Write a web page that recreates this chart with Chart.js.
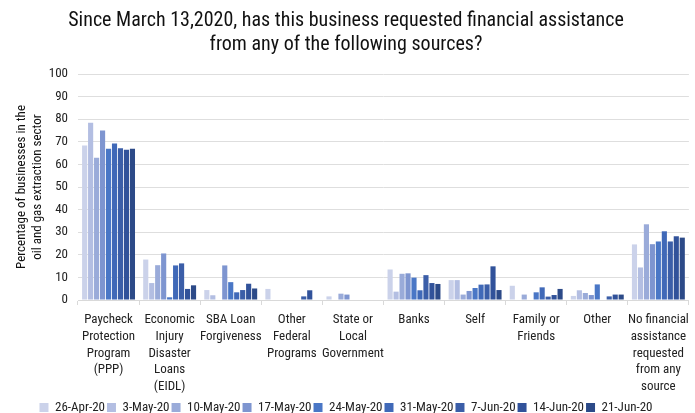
<!DOCTYPE html>
<html>
<head>
<meta charset="utf-8">
<script src="https://cdn.jsdelivr.net/npm/chart.js@4/dist/chart.umd.min.js"></script>
<style>
  html, body { margin: 0; padding: 0; background: #fff; }
  canvas { display: block; }
</style>
</head>
<body>
<canvas id="chart" width="695" height="413"></canvas>
<script>
// categories (multi-line labels)
const categories = [
  ["Paycheck", "Protection", "Program", "(PPP)"],
  ["Economic", "Injury", "Disaster", "Loans", "(EIDL)"],
  ["SBA Loan", "Forgiveness"],
  ["Other", "Federal", "Programs"],
  ["State or", "Local", "Government"],
  ["Banks"],
  ["Self"],
  ["Family or", "Friends"],
  ["Other"],
  ["No financial", "assistance", "requested", "from any", "source"]
];

const weeks = ["26-Apr-20", "3-May-20", "10-May-20", "17-May-20", "24-May-20",
               "31-May-20", "7-Jun-20", "14-Jun-20", "21-Jun-20"];

// one array per week, values in category order
const apr26 = [68.4, 17.9, 4.4, 4.9, 1.6, 13.5, 8.8, 6.3, 1.8, 24.6];
const may3  = [78.4, 7.5, 2.1, 0, 0, 3.7, 8.8, 0, 4.3, 14.4];
const may10 = [62.9, 15.4, 0, 0, 2.8, 11.6, 2.4, 2.4, 3.1, 33.5];
const may17 = [75.0, 20.6, 15.3, 0, 2.4, 11.8, 4.0, 0, 2.2, 24.7];
const may24 = [66.9, 1.2, 7.9, 0, 0, 9.9, 5.3, 3.4, 6.9, 25.9];
const may31 = [69.3, 15.3, 3.4, 0, 0, 4.3, 6.8, 5.6, 0, 30.4];
const jun7  = [67.1, 16.2, 4.4, 1.6, 0, 11.0, 6.9, 1.5, 1.6, 25.9];
const jun14 = [66.5, 4.9, 7.2, 4.3, 0, 7.5, 14.9, 2.2, 2.4, 28.2];
const jun21 = [66.9, 6.5, 5.1, 0, 0, 7.1, 4.4, 4.9, 2.4, 27.6];

const series = [apr26, may3, may10, may17, may24, may31, jun7, jun14, jun21];
const colors = ["#cbd2ea", "#b3bee2", "#9aabd9", "#7e95d0", "#4a77c6",
                "#4069b8", "#3b5ea8", "#31529a", "#2c4a88"];

const yTicks = [0, 10, 20, 30, 40, 50, 60, 70, 80, 90, 100];

const FONT = "'Roboto Condensed', 'Liberation Sans Narrow', 'DejaVu Sans Condensed', Roboto, sans-serif";
Chart.defaults.font.family = FONT;
Chart.defaults.color = "#222";

new Chart(document.getElementById("chart").getContext("2d"), {
  type: "bar",
  data: {
    labels: categories,
    datasets: series.map((d, i) => ({
      label: weeks[i],
      data: d,
      backgroundColor: colors[i],
      categoryPercentage: 0.88,
      barPercentage: 0.86
    }))
  },
  options: {
    responsive: false,
    animation: false,
    layout: { padding: { left: 0, right: 3, top: 4, bottom: -11 } },
    plugins: {
      title: {
        display: true,
        text: ["Since March 13,2020, has this business requested financial assistance",
               "from any of the following sources?"],
        font: { size: 20, weight: "normal" },
        color: "#111",
        padding: { top: 5, bottom: 17 },
        lineHeight: 1.25
      },
      legend: {
        position: "bottom",
        labels: { boxWidth: 9, boxHeight: 9, font: { size: 13 }, padding: 2, color: "#222" }
      },
      tooltip: { enabled: false }
    },
    scales: {
      x: {
        afterFit: s => { s.height = 99; },
        grid: { offset: true, drawOnChartArea: false, drawTicks: true, tickLength: 5, color: "#d9d9d9" },
        border: { color: "#d9d9d9" },
        ticks: { maxRotation: 0, autoSkip: false, font: { size: 13, lineHeight: 1.3 }, color: "#222", padding: 6 }
      },
      y: {
        min: 0,
        max: 100,
        afterFit: s => { s.width = 78; },
        afterBuildTicks: s => { s.ticks = yTicks.map(v => ({ value: v })); },
        grid: { color: "#dedede", lineWidth: 1, drawTicks: false },
        border: { display: false },
        ticks: { font: { size: 13 }, color: "#222", padding: 10 },
        title: {
          display: true,
          text: ["Percentage of businesses in the", "oil and gas extraction sector"],
          font: { size: 13 },
          color: "#111",
          padding: { top: 14, bottom: 0 }
        }
      }
    }
  }
});
</script>
</body>
</html>
